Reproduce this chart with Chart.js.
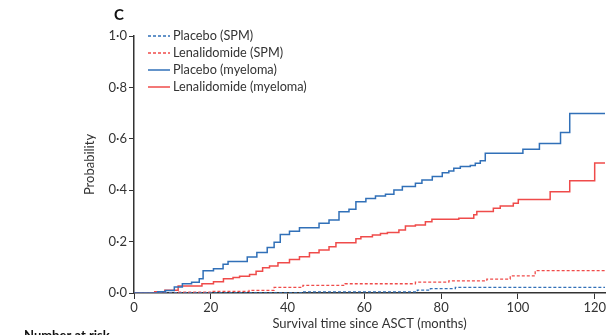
<!DOCTYPE html>
<html>
<head>
<meta charset="utf-8">
<script src="https://cdn.jsdelivr.net/npm/chart.js@4/dist/chart.umd.min.js"></script>
<style>
  html, body { margin: 0; padding: 0; background: #fff; }
  #wrap { width: 607px; height: 335px; position: relative; }
</style>
</head>
<body>
<div id="wrap"><canvas id="kmChart"></canvas></div>
<script>
// Cumulative incidence, step curves (time in months, probability)
var placeboSpmTime = [0, 44, 73.8, 77.2, 83.7, 122.7];
var placeboSpmProb = [0, 0.004, 0.011, 0.017, 0.022, 0.022];

var lenaSpmTime = [0, 11, 20, 30, 36.5, 44, 55, 73.3, 82, 91.9, 98, 104.5, 122.7];
var lenaSpmProb = [0, 0.003, 0.006, 0.01, 0.022, 0.03, 0.036, 0.042, 0.047, 0.054, 0.067, 0.087, 0.087];

var placeboMyeTime = [0, 6.2, 8.2, 10.5, 12.6, 15, 17, 18, 20.7, 23.2, 24.5, 29.5, 32, 34.7, 36.5, 38.1, 40.5, 43.1,
  48.2, 50.8, 53.4, 56, 57.8, 60.4, 62.9, 65.5, 67.7, 69.9, 73.3, 75, 77.7, 80.3, 82, 83.3, 85, 87.6, 88.9, 90.2,
  91.5, 101.3, 105.6, 111.1, 113.5, 122.7];
var placeboMyeProb = [0, 0.005, 0.01, 0.023, 0.036, 0.042, 0.055, 0.087, 0.094, 0.112, 0.123, 0.14, 0.158, 0.177,
  0.197, 0.228, 0.24, 0.254, 0.271, 0.284, 0.316, 0.326, 0.355, 0.368, 0.377, 0.384, 0.401, 0.414, 0.427, 0.44,
  0.453, 0.468, 0.475, 0.485, 0.492, 0.496, 0.505, 0.515, 0.544, 0.559, 0.582, 0.625, 0.698, 0.698];

var lenaMyeTime = [0, 5.4, 8, 11.5, 17.7, 20.7, 23.3, 25.8, 27.5, 30.1, 31.8, 33.5, 35.3, 37.5, 40.5, 43.1, 45.7,
  48.2, 50.8, 52.6, 57.8, 59.1, 62.1, 64.2, 66, 69, 70.7, 73.3, 75.9, 77.6, 84.6, 88.5, 89.3, 93.6, 95.4, 98.8,
  100.1, 108.4, 113.5, 120, 122.7];
var lenaMyeProb = [0, 0.005, 0.011, 0.027, 0.036, 0.044, 0.055, 0.06, 0.065, 0.072, 0.085, 0.098, 0.105, 0.118,
  0.13, 0.141, 0.157, 0.167, 0.18, 0.196, 0.211, 0.219, 0.226, 0.232, 0.235, 0.245, 0.261, 0.265, 0.277, 0.287,
  0.291, 0.304, 0.317, 0.33, 0.339, 0.349, 0.364, 0.394, 0.437, 0.506, 0.506];

var seriesLabels = ["Placebo (SPM)", "Lenalidomide (SPM)", "Placebo (myeloma)", "Lenalidomide (myeloma)"];
var xTicks = [0, 20, 40, 60, 80, 100, 120];
var xMax = 122.7;

var BLUE = "#3170b8";
var RED = "#ef4b4a";
var INK = "#333333";
var FONT = "Lato, 'Open Sans', sans-serif";
var FS = 13;

function toPoints(times, probs) {
  return times.map(function (t, i) { return { x: t, y: probs[i] }; });
}

function makeSet(label, times, probs, color, dashed) {
  return {
    label: label,
    data: toPoints(times, probs),
    borderColor: color,
    borderWidth: dashed ? 1.3 : 1.5,
    borderDash: dashed ? [3, 2] : [],
    stepped: true,
    pointRadius: 0,
    fill: false,
  };
}

// legend, panel letter and the cut-off "Number at risk" header
var extras = {
  id: "extras",
  afterDraw: function (chart) {
    var ctx = chart.ctx;
    ctx.save();
    ctx.fillStyle = "#111";
    ctx.font = "bold 15px " + FONT;
    ctx.textAlign = "left";
    ctx.textBaseline = "middle";
    ctx.fillText("C", 114, 15);

    ctx.font = "12.7px " + FONT;
    chart.data.datasets.forEach(function (ds, i) {
      var y = 36 + i * 17;
      ctx.beginPath();
      ctx.strokeStyle = ds.borderColor;
      ctx.lineWidth = ds.borderWidth;
      ctx.setLineDash(ds.borderDash);
      ctx.moveTo(148, y);
      ctx.lineTo(170, y);
      ctx.stroke();
      ctx.setLineDash([]);
      ctx.fillStyle = INK;
      ctx.fillText(ds.label, 173, y);
    });

    ctx.font = "bold 13px " + FONT;
    ctx.fillStyle = "#111";
    ctx.textBaseline = "alphabetic";
    ctx.fillText("Number at risk", 24, 340);
    ctx.restore();
  },
};

var ctx = document.getElementById("kmChart").getContext("2d");
var chart = new Chart(ctx, {
  type: "line",
  data: {
    datasets: [
      makeSet(seriesLabels[0], placeboSpmTime, placeboSpmProb, BLUE, true),
      makeSet(seriesLabels[1], lenaSpmTime, lenaSpmProb, RED, true),
      makeSet(seriesLabels[2], placeboMyeTime, placeboMyeProb, BLUE, false),
      makeSet(seriesLabels[3], lenaMyeTime, lenaMyeProb, RED, false),
    ],
  },
  options: {
    responsive: true,
    maintainAspectRatio: false,
    animation: false,
    layout: { padding: { left: 82, top: 36, right: 0, bottom: 0 } },
    plugins: {
      legend: { display: false },
      tooltip: { enabled: false },
    },
    scales: {
      x: {
        type: "linear",
        min: 0,
        max: xMax,
        afterBuildTicks: function (scale) {
          scale.ticks = xTicks.map(function (v) { return { value: v }; });
        },
        afterFit: function (scale) { scale.height = 42; },
        grid: { drawOnChartArea: false, drawTicks: true, tickLength: 6, color: INK },
        border: { color: INK, width: 1.5 },
        ticks: { color: INK, font: { family: FONT, size: FS }, padding: 1, maxRotation: 0 },
        title: {
          display: true,
          text: "Survival time since ASCT (months)",
          color: INK,
          font: { family: FONT, size: FS },
          padding: { top: 0, bottom: 3 },
        },
      },
      y: {
        min: 0,
        max: 1,
        afterFit: function (scale) { scale.width = 52; },
        grid: { drawOnChartArea: false, drawTicks: true, tickLength: 5, color: INK },
        border: { color: INK, width: 1.5 },
        ticks: {
          stepSize: 0.2,
          color: INK,
          font: { family: FONT, size: FS },
          padding: 2,
          callback: function (v) { return v.toFixed(1).replace(".", "\u00b7"); },
        },
        title: {
          display: true,
          text: "Probability",
          color: INK,
          font: { family: FONT, size: FS },
          padding: 0,
        },
      },
    },
  },
  plugins: [extras],
});
</script>
</body>
</html>
